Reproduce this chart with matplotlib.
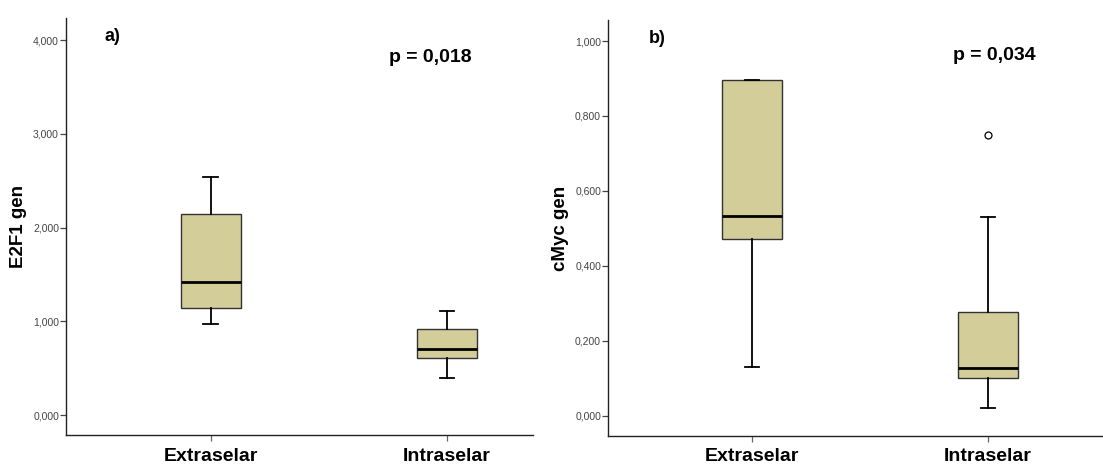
import matplotlib.pyplot as plt

groups = ["Extraselar", "Intraselar"]

# E2F1 expression: five-number summaries per group
e2f1_whislo = [0.967, 0.398]
e2f1_q1 = [1.138, 0.604]
e2f1_med = [1.415, 0.704]
e2f1_q3 = [2.144, 0.914]
e2f1_whishi = [2.542, 1.113]
e2f1_fliers = [[], []]
e2f1_ticks = [0, 1, 2, 3, 4]
e2f1_ticklabels = ["0,000", "1,000", "2,000", "3,000", "4,000"]

# cMyc expression
cmyc_whislo = [0.131, 0.022]
cmyc_q1 = [0.471, 0.100]
cmyc_med = [0.533, 0.128]
cmyc_q3 = [0.895, 0.278]
cmyc_whishi = [0.895, 0.530]
cmyc_fliers = [[], [0.749]]
cmyc_ticks = [0, 0.2, 0.4, 0.6, 0.8, 1.0]
cmyc_ticklabels = ["0,000", "0,200", "0,400", "0,600", "0,800", "1,000"]

plt.rcParams["font.family"] = ["Liberation Sans", "DejaVu Sans"]

BOX_FILL = "#D3CD99"


def make_stats(whislo, q1, med, q3, whishi, fliers):
    return [dict(whislo=a, q1=b, med=c, q3=d, whishi=e, fliers=f, label=g)
            for a, b, c, d, e, f, g in zip(whislo, q1, med, q3, whishi, fliers, groups)]


def draw_panel(ax, stats, ylabel, tag, ptext, ptext_y, ylim, xlim, ticks, ticklabels):
    ax.bxp(stats, positions=[1, 2], widths=0.254, capwidths=0.063,
           patch_artist=True,
           boxprops=dict(facecolor=BOX_FILL, edgecolor="#333333", linewidth=1.0),
           medianprops=dict(color="black", linewidth=2.0),
           whiskerprops=dict(color="black", linewidth=1.3),
           capprops=dict(color="black", linewidth=1.3),
           flierprops=dict(marker="o", markerfacecolor="white",
                           markeredgecolor="black", markersize=5, markeredgewidth=0.9))
    ax.set_xlim(*xlim)
    ax.set_ylim(*ylim)
    ax.set_yticks(ticks, ticklabels)
    ax.set_xticks([1, 2], groups)
    for side in ("top", "right"):
        ax.spines[side].set_visible(False)
    for side in ("left", "bottom"):
        ax.spines[side].set_linewidth(1.0)
        ax.spines[side].set_color("#222222")
    ax.tick_params(axis="y", labelsize=7.5, labelcolor="#444444", length=4,
                   width=0.9, color="#444444", pad=1)
    ax.tick_params(axis="x", labelsize=14, length=4, width=0.9,
                   color="#666666", pad=5)
    for lab in ax.get_xticklabels():
        lab.set_fontweight("bold")
    ax.set_ylabel(ylabel, fontsize=13.5, fontweight="bold", labelpad=4)
    ax.text(0.082, 0.955, tag, transform=ax.transAxes, fontsize=13,
            fontweight="bold", ha="left", va="center")
    ax.text(0.78, ptext_y, ptext, transform=ax.transAxes, fontsize=14,
            fontweight="bold", ha="center", va="center")


fig = plt.figure(figsize=(11.03, 4.66), dpi=100)
ax_a = fig.add_axes([0.0598, 0.0665, 0.4234, 0.8949])
ax_b = fig.add_axes([0.5512, 0.0644, 0.4488, 0.8926])

draw_panel(ax_a,
           make_stats(e2f1_whislo, e2f1_q1, e2f1_med, e2f1_q3, e2f1_whishi, e2f1_fliers),
           "E2F1 gen", "a)", "p = 0,018", 0.905,
           (-0.213, 4.235), (0.386, 2.364), e2f1_ticks, e2f1_ticklabels)
draw_panel(ax_b,
           make_stats(cmyc_whislo, cmyc_q1, cmyc_med, cmyc_q3, cmyc_whishi, cmyc_fliers),
           "cMyc gen", "b)", "p = 0,034", 0.915,
           (-0.054, 1.056), (0.39, 2.487), cmyc_ticks, cmyc_ticklabels)

fig.savefig("out.png", dpi=100)
